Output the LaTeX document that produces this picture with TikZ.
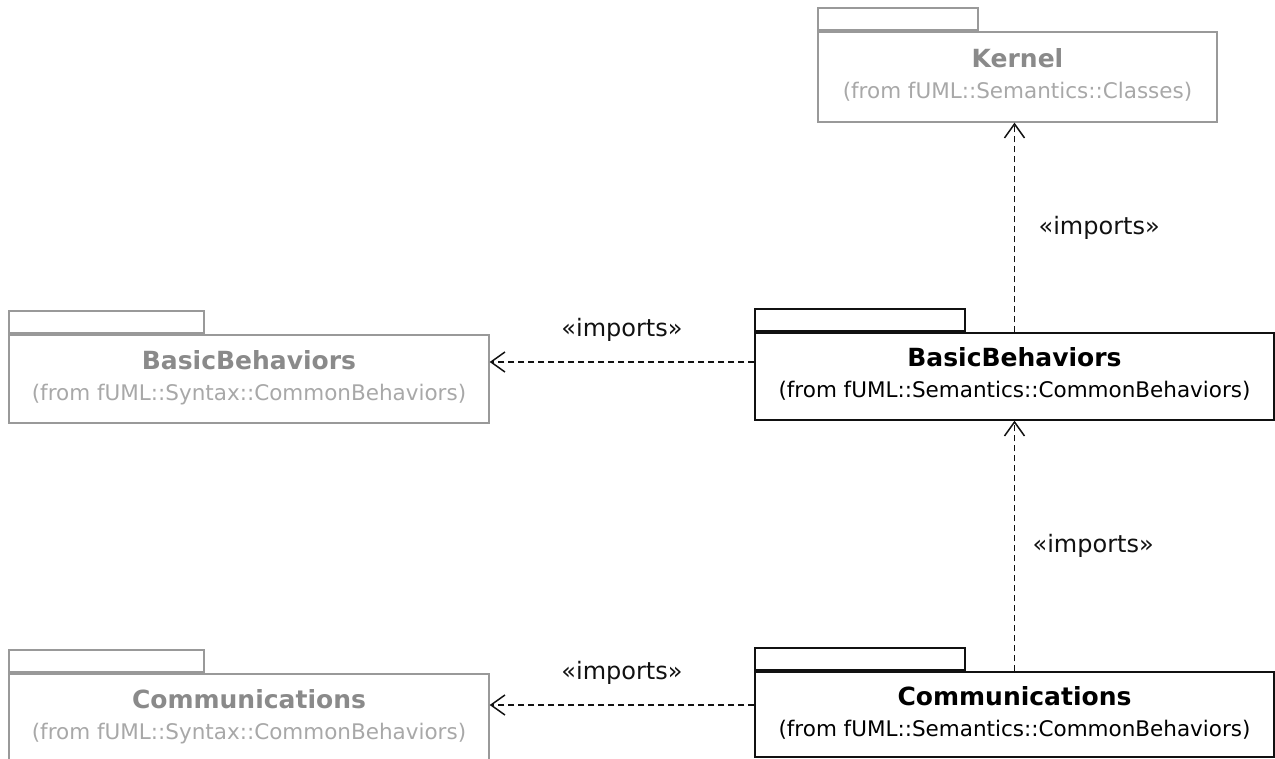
\documentclass[tikz,border=0pt]{standalone}
\usepackage{fontspec}
\setmainfont{DejaVu Sans}
\usetikzlibrary{
  arrows.meta,
  positioning
}
\definecolor{pkgline}{HTML}{999999}
\definecolor{pkgname}{HTML}{8A8A8A}
\definecolor{pkgfrom}{HTML}{A8A8A8}
\definecolor{pkgdark}{HTML}{111111}

\begin{document}
\begin{tikzpicture}[
      x=1pt, y=-1pt,
      pkg/.style={
        rectangle, draw=pkgdark, line width=1.4pt,
        align=center, inner sep=0pt,
        font=\fontsize{21.5}{31}\selectfont
      },
      pkgsyn/.style={
        rectangle, draw=pkgline, line width=1.3pt,
        align=center, inner sep=0pt,
        font=\fontsize{21.5}{31}\selectfont
      },
      tab/.style={
        rectangle, anchor=south west, minimum height=22pt,
        inner sep=0pt, yshift=0.6pt
      },
      imp/.style={-{Straight Barb[length=14pt, width=20pt]}, line width=1.5pt,
        dash pattern=on 6pt off 4pt, pkgdark},
      implabel/.style={font=\fontsize{24}{28}\selectfont, text=pkgdark}
    ]
      \useasboundingbox (0,0) rectangle (1275,759);

      % packages
      \node[pkgsyn, minimum width=399pt, minimum height=90pt] (kernel) at (1017.5,77)
        {{\fontsize{25}{31}\selectfont\bfseries\color{pkgname}Kernel}\\
         \color{pkgfrom}(from fUML::Semantics::Classes)\rule[-7pt]{0pt}{0pt}};
      \node[pkg, minimum width=519pt, minimum height=87pt] (basicsem) at (1014.5,376.5)
        {{\fontsize{25}{31}\selectfont\bfseries BasicBehaviors}\\
         (from fUML::Semantics::CommonBehaviors)\rule[-7pt]{0pt}{0pt}};
      \node[pkg, minimum width=519pt, minimum height=85pt] (commsem) at (1014.5,714.5)
        {{\fontsize{25}{31}\selectfont\bfseries Communications}\\
         (from fUML::Semantics::CommonBehaviors)\rule[-7pt]{0pt}{0pt}};
      \node[pkgsyn, minimum width=480pt, minimum height=88pt] (basicsyn) at (249,379)
        {{\fontsize{25}{31}\selectfont\bfseries\color{pkgname}BasicBehaviors}\\
         \color{pkgfrom}(from fUML::Syntax::CommonBehaviors)\rule[-7pt]{0pt}{0pt}};
      \node[pkgsyn, minimum width=480pt, minimum height=88pt] (commsyn) at (249,718)
        {{\fontsize{25}{31}\selectfont\bfseries\color{pkgname}Communications}\\
         \color{pkgfrom}(from fUML::Syntax::CommonBehaviors)\rule[-7pt]{0pt}{0pt}};

      % tabs
      \node[tab, draw=pkgline, line width=1.3pt, minimum width=160pt] (kerneltab) at (kernel.north west) {};
      \node[tab, draw=pkgdark, line width=1.4pt, minimum width=210pt] (basicsemtab) at (basicsem.north west) {};
      \node[tab, draw=pkgdark, line width=1.4pt, minimum width=210pt] (commsemtab) at (commsem.north west) {};
      \node[tab, draw=pkgline, line width=1.3pt, minimum width=195pt] (basicsyntab) at (basicsyn.north west) {};
      \node[tab, draw=pkgline, line width=1.3pt, minimum width=195pt] (commsyntab) at (commsyn.north west) {};

      % imports
      \draw[imp] (basicsem.north) -- (basicsem.north |- kernel.south)
        node[implabel, midway, right=20pt] {«imports»};
      \draw[imp] (commsem.north) -- (basicsem.south)
        node[implabel, midway, right=14pt] {«imports»};
      \draw[imp] ([yshift=14.5pt]basicsem.west) -- ([yshift=14.5pt]basicsem.west -| basicsyn.east)
        node[implabel, midway, above=16pt] {«imports»};
      \draw[imp] ([yshift=9.5pt]commsem.west) -- ([yshift=9.5pt]commsem.west -| commsyn.east)
        node[implabel, midway, above=16pt] {«imports»};
    \end{tikzpicture}
\end{document}
